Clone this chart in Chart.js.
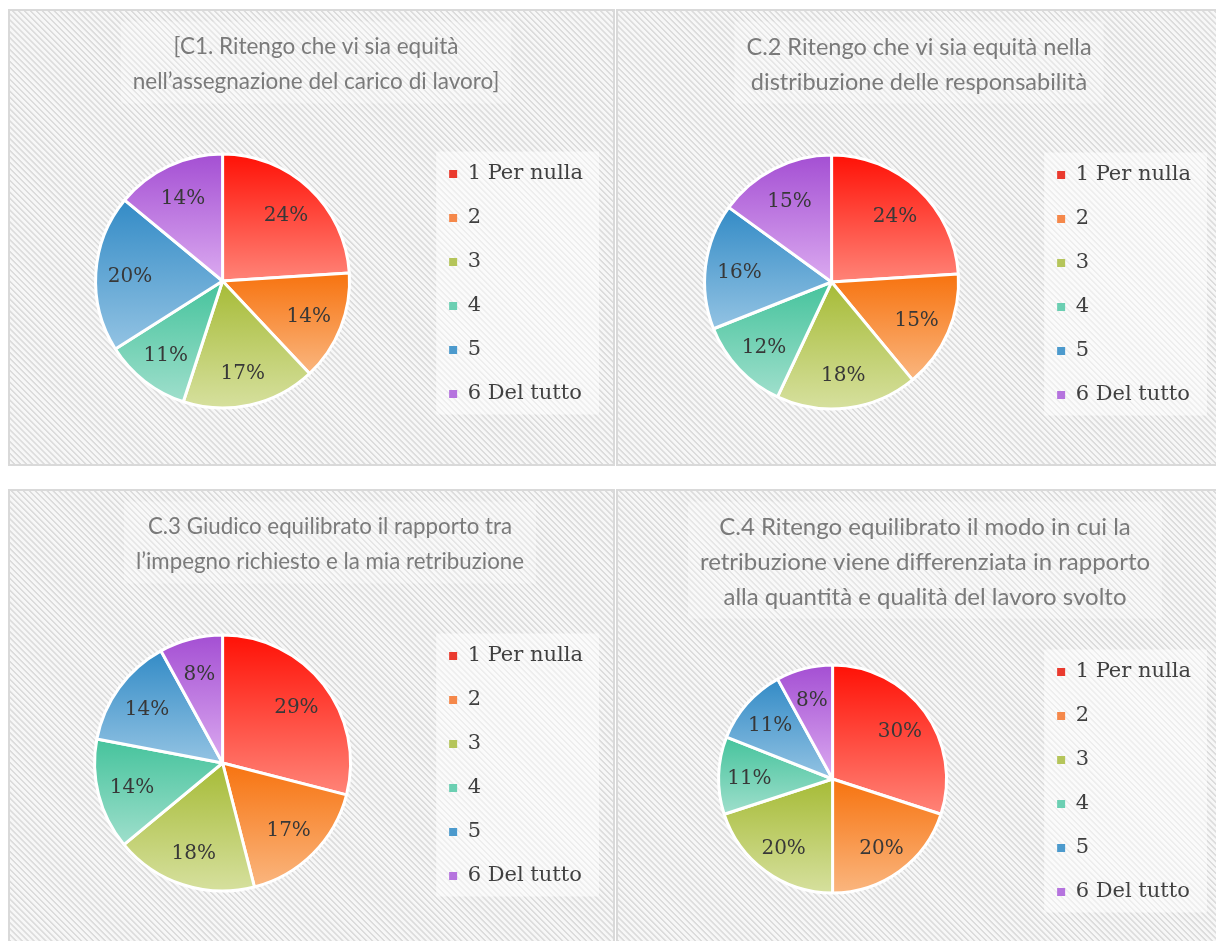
<!DOCTYPE html>
<html>
<head>
<meta charset="utf-8">
<script src="https://cdn.jsdelivr.net/npm/chart.js@4.4.0/dist/chart.umd.min.js"></script>
<style>
  html, body { margin: 0; padding: 0; background: #fff; width: 1216px; height: 941px; overflow: hidden; }
  .panel {
    position: absolute; box-sizing: border-box; border: 2px solid #d9d9d9; overflow: hidden;
    background: repeating-linear-gradient(45deg, #f7f7f7 0px, #f7f7f7 2px, #dcdcdc 2.6px, #dcdcdc 3.6px, #f7f7f7 4.2px);
  }
  .panel canvas { position: absolute; left: 0; top: 0; }
</style>
</head>
<body>
<div class="panel" style="left:8px;top:9px;width:607px;height:457px"><canvas id="c1" width="620" height="453"></canvas></div>
<div class="panel" style="left:616px;top:9px;width:620px;height:457px"><canvas id="c2" width="620" height="453"></canvas></div>
<div class="panel" style="left:8px;top:489px;width:607px;height:470px"><canvas id="c3" width="620" height="466"></canvas></div>
<div class="panel" style="left:616px;top:489px;width:620px;height:470px"><canvas id="c4" width="620" height="466"></canvas></div>
<script>
// data
const categories = ['1 Per nulla', '2', '3', '4', '5', '6 Del tutto'];

const titleC1 = ['[C1. Ritengo che vi sia equità', 'nell’assegnazione del carico di lavoro]'];
const titleC2 = ['C.2 Ritengo che vi sia equità nella', 'distribuzione delle responsabilità'];
const titleC3 = ['C.3 Giudico equilibrato il rapporto tra', 'l’impegno richiesto e la mia retribuzione'];
const titleC4 = ['C.4 Ritengo equilibrato il modo in cui la', 'retribuzione viene differenziata in rapporto', 'alla quantità e qualità del lavoro svolto'];

const valuesC1 = [24, 14, 17, 11, 20, 14];
const valuesC2 = [24, 15, 18, 12, 16, 15];
const valuesC3 = [29, 17, 18, 14, 14, 8];
const valuesC4 = [30, 20, 20, 11, 11, 8];

// colours: top of slice -> bottom of slice, plus legend marker
const topColors = ['#ff1106', '#f7730f', '#a6bb36', '#45c39c', '#338bc6', '#a44fd3'];
const bottomColors = ['#ff8478', '#fab67f', '#d6e09e', '#9fdfcc', '#93c3e3', '#dbaaf0'];
const markerColors = ['#ea3a2e', '#f5884a', '#b5c55a', '#6bcfb2', '#4c9acd', '#b573de'];

// geometry of each panel (pie centre/radius, title size and centre)
const panels = [
  { id: 'c1', title: titleC1, values: valuesC1, h: 453, cx: 212, cy: 270, r: 127, ts: 22.5, tc: 306 },
  { id: 'c2', title: titleC2, values: valuesC2, h: 453, cx: 213, cy: 271, r: 127, ts: 23.5, tc: 301 },
  { id: 'c3', title: titleC3, values: valuesC3, h: 466, cx: 212, cy: 272, r: 128, ts: 22.3, tc: 320 },
  { id: 'c4', title: titleC4, values: valuesC4, h: 466, cx: 214, cy: 288, r: 114, ts: 24, tc: 307 },
];

const CANVAS_W = 620;
const LEGEND_LEFT = 415, LEGEND_W = 180, LEG_FONT = 21, LEG_PAD = 23, LEG_DY = 3;
const TITLE_LH = 35, TITLE_PT = 18.5, TITLE_PB = 10;

function sliceGradient(c, radius) {
  const i = c.dataIndex;
  const chart = c.chart, area = chart.chartArea;
  if (!area || c.type !== 'data') return markerColors[i];
  const vals = c.dataset.data;
  const total = vals.reduce((a, b) => a + b, 0);
  let cum = 0;
  for (let k = 0; k < i; k++) cum += vals[k];
  const a0 = -Math.PI / 2 + 2 * Math.PI * cum / total;
  const a1 = a0 + 2 * Math.PI * vals[i] / total;
  const cy = (area.top + area.bottom) / 2;
  const ys = [cy, cy + radius * Math.sin(a0), cy + radius * Math.sin(a1)];
  [-Math.PI / 2, Math.PI / 2, 3 * Math.PI / 2].forEach(t => {
    if (t >= a0 && t <= a1) ys.push(cy + radius * Math.sin(t));
  });
  const g = chart.ctx.createLinearGradient(0, Math.min(...ys), 0, Math.max(...ys));
  g.addColorStop(0, topColors[i]);
  g.addColorStop(1, bottomColors[i]);
  return g;
}

// nudge title and legend boxes after layout
const placeBoxes = {
  id: 'placeBoxes',
  afterLayout(chart, args, opts) {
    const tb = chart.titleBlock;
    if (tb) {
      const d = opts.titleCentre - (tb.left + tb.right) / 2;
      tb.left += d; tb.right += d;
    }
    const lg = chart.legend;
    if (lg) { lg.top += LEG_DY; lg.bottom += LEG_DY; }
  }
};

// light boxes behind title and legend
const backdrops = {
  id: 'backdrops',
  beforeDraw(chart) {
    const ctx = chart.ctx;
    const tOpts = chart.options.plugins.title;
    ctx.save();
    const tb = chart.titleBlock;
    if (tb) {
      ctx.font = tOpts.font.size + 'px Lato';
      const lines = tOpts.text;
      const wMax = Math.max(...lines.map(t => ctx.measureText(t).width));
      const mid = (tb.left + tb.right) / 2;
      ctx.fillStyle = 'rgba(255,255,255,0.3)';
      ctx.fillRect(mid - wMax / 2 - 12, TITLE_PT - 8, wMax + 24, lines.length * TITLE_LH + 12);
    }
    const hb = chart.legend && chart.legend.legendHitBoxes;
    if (hb && hb.length) {
      const l = Math.min(...hb.map(h => h.left)) - 13;
      const r = Math.max(...hb.map(h => h.left + h.width)) + 16;
      const t = Math.min(...hb.map(h => h.top)) - 12;
      const b = Math.max(...hb.map(h => h.top + h.height)) + 10;
      ctx.fillStyle = 'rgba(255,255,255,0.5)';
      ctx.fillRect(l, t, r - l, b - t);
    }
    ctx.restore();
  }
};

// percentage labels inside the slices
const pctLabels = {
  id: 'pctLabels',
  afterDatasetsDraw(chart) {
    const ctx = chart.ctx;
    const meta = chart.getDatasetMeta(0);
    const data = chart.data.datasets[0].data;
    ctx.save();
    ctx.font = '20px "DejaVu Serif"';
    ctx.fillStyle = '#383838';
    ctx.textAlign = 'center';
    ctx.textBaseline = 'middle';
    meta.data.forEach((arc, i) => {
      const p = arc.getProps(['x', 'y', 'startAngle', 'endAngle', 'outerRadius'], true);
      const m = (p.startAngle + p.endAngle) / 2;
      const d = p.outerRadius * 0.73;
      ctx.fillText(data[i] + '%', p.x + Math.cos(m) * d, p.y + Math.sin(m) * d + 2);
    });
    ctx.restore();
  }
};

panels.forEach(p => {
  const titleH = TITLE_PT + p.title.length * TITLE_LH + TITLE_PB;
  const bottom = 2 * p.cy - titleH;
  const padLeft = 2 * p.cx - LEGEND_LEFT;
  const padRight = CANVAS_W - (LEGEND_LEFT + LEGEND_W) + 12;
  new Chart(document.getElementById(p.id), {
    type: 'pie',
    data: {
      labels: categories,
      datasets: [{
        data: p.values,
        backgroundColor: c => sliceGradient(c, p.r),
        borderColor: '#ffffff',
        borderWidth: 3,
      }],
    },
    options: {
      responsive: false,
      animation: false,
      radius: p.r,
      layout: {
        padding: { top: 0, left: padLeft, right: padRight, bottom: p.h - bottom },
      },
      plugins: {
        placeBoxes: { titleCentre: p.tc },
        title: {
          display: true,
          text: p.title,
          color: '#7a7a7a',
          font: { family: 'Lato', size: p.ts, weight: 'normal', lineHeight: TITLE_LH / p.ts },
          padding: { top: TITLE_PT, bottom: TITLE_PB },
        },
        legend: {
          position: 'right',
          fullSize: false,
          maxWidth: LEGEND_W,
          labels: {
            boxWidth: 8,
            boxHeight: 8,
            padding: LEG_PAD,
            color: '#404040',
            font: { family: 'DejaVu Serif', size: LEG_FONT },
            generateLabels: chart => chart.data.labels.map((t, i) => ({
              text: t, fillStyle: markerColors[i], strokeStyle: markerColors[i],
              lineWidth: 0, hidden: false, index: i, fontColor: '#404040',
            })),
          },
        },
        tooltip: { enabled: false },
      },
    },
    plugins: [placeBoxes, backdrops, pctLabels],
  });
});
</script>
</body>
</html>
